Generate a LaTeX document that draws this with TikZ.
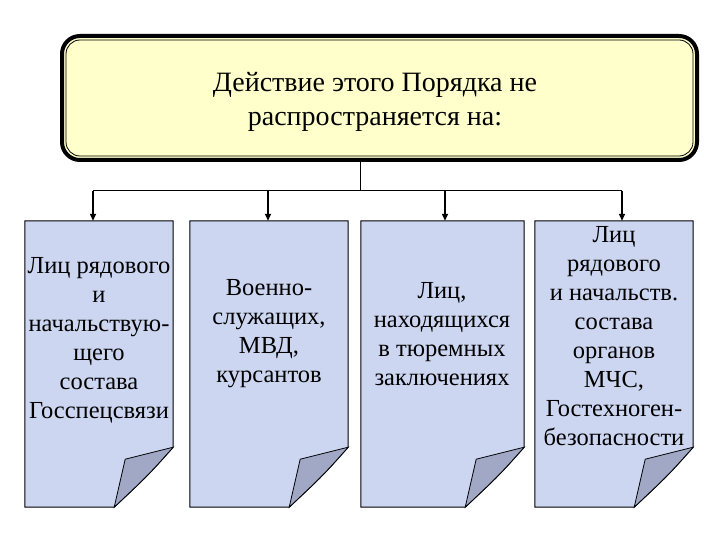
\documentclass[tikz,border=0pt]{standalone}
\usepackage{fontspec}
\setmainfont{Liberation Serif}
\usetikzlibrary{calc,arrows.meta}
\definecolor{titlefill}{RGB}{255,255,204}
\definecolor{pagefill}{RGB}{204,214,240}
\definecolor{foldfill}{RGB}{160,168,198}
\tikzset{
  titlebox/.style={draw, line width=4pt, rounded corners=18pt, fill=titlefill,
    minimum width=635pt, minimum height=124pt, inner sep=0pt},
  pagebox/.style={minimum height=286pt, inner sep=0pt},
  pagetext/.style={align=center, font=\fontsize{24.5}{29}\selectfont, inner sep=0pt},
  titletext/.style={align=center, font=\fontsize{28}{34}\selectfont, inner sep=0pt},
  link/.style={line width=1pt},
  drop/.style={line width=1.6pt, -{Triangle[length=7pt,width=6pt]}},
  pageline/.style={draw=black, line width=1pt, fill=pagefill},
  foldline/.style={draw=black, line width=0.8pt, fill=foldfill},
}
\newcommand\pageshape[1]{%
  \draw[pageline] (#1.north west) -- (#1.north east) -- ($(#1.south east)+(0,-60)$)
    .. controls ($(#1.south east)+(-25,-32)$) .. ($(#1.south east)+(-59,0)$)
    -- (#1.south west) -- cycle;
  \draw[foldline] ($(#1.south east)+(0,-60)$) -- ($(#1.south east)+(-48,-48)$)
    -- ($(#1.south east)+(-59,0)$)
    .. controls ($(#1.south east)+(-25,-32)$) .. ($(#1.south east)+(0,-60)$) -- cycle;
}
\begin{document}
\begin{tikzpicture}[x=1pt,y=-1pt]
\useasboundingbox (0,0) rectangle (720,540);
% title
\node[titlebox] (title) at (379.5,98) {};
\draw[line width=0.8pt, rounded corners=14pt]
  ($(title.south west)+(6,-6)$) rectangle ($(title.north east)+(-6,6)$);
\node[titletext] (tt) at (375,102) {Действие этого Порядка не\\распространяется на:};
% pages
\node[pagebox, minimum width=148pt] (b1) at (99,364) {};
\node[pagebox, minimum width=158pt] (b2) at (269,364) {};
\node[pagebox, minimum width=163pt] (b3) at (442.5,364) {};
\node[pagebox, minimum width=158pt] (b4) at (614,364) {};
\pageshape{b1}
\pageshape{b2}
\pageshape{b3}
\pageshape{b4}
\node[pagetext] (l1) at (99,340) {Лиц рядового\\и\\начальствую-\\щего\\состава\\Госспецсвязи};
\node[pagetext] (l2) at (269,334) {Военно-\\служащих,\\МВД,\\курсантов};
\node[pagetext] (l3) at (442,334) {Лиц,\\находящихся\\в тюремных\\заключениях};
\node[pagetext] (l4) at (614,336) {Лиц\\рядового\\и начальств.\\состава\\органов\\МЧС,\\Гостехноген-\\безопасности};
% connectors
\coordinate (hub) at (360,191);
\coordinate (a1) at (93,191);
\coordinate (a2) at (268,191);
\coordinate (a3) at (445,191);
\coordinate (a4) at (622,191);
\draw[link] (hub |- title.south) -- (hub);
\draw[link] (a1) -- (a4);
\draw[drop] (a1) -- (a1 |- b1.north);
\draw[drop] (a2) -- (a2 |- b2.north);
\draw[drop] (a3) -- (a3 |- b3.north);
\draw[drop] (a4) -- (a4 |- b4.north);
\end{tikzpicture}
\end{document}
